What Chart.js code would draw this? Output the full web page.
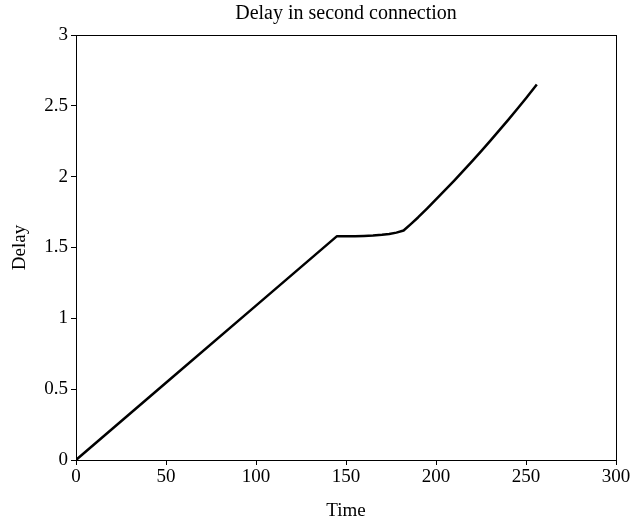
<!DOCTYPE html>
<html>
<head>
<meta charset="utf-8">
<script src="https://cdn.jsdelivr.net/npm/chart.js@4"></script>
<style>
  html, body { margin: 0; padding: 0; background: #fff; }
  #wrap { width: 642px; height: 527px; }
</style>
</head>
<body>
<div id="wrap"><canvas id="chart" width="642" height="527"></canvas></div>
<script>
// time samples and delay of the second connection
const times  = [0, 50, 100, 145, 150, 155, 160, 165, 170, 174, 178, 182, 186, 190, 195, 200, 205, 210, 215, 220, 225, 230, 235, 240, 245, 250, 256];
const delays = [0, 0.545, 1.09, 1.58, 1.58, 1.58, 1.582, 1.585, 1.59, 1.596, 1.605, 1.62, 1.665, 1.712, 1.775, 1.84, 1.905, 1.971, 2.039, 2.108, 2.179, 2.251, 2.325, 2.399, 2.476, 2.554, 2.65];

const xTicks = [0, 50, 100, 150, 200, 250, 300];
const yTicks = [0, 0.5, 1, 1.5, 2, 2.5, 3];

const serif = "'Liberation Serif', 'DejaVu Serif', serif";

// box round the plot area
const frame = {
    id: 'frame',
    afterDatasetsDraw(chart) {
        const a = chart.chartArea;
        const ctx = chart.ctx;
        ctx.save();
        ctx.strokeStyle = '#000';
        ctx.lineWidth = 1;
        ctx.strokeRect(a.left + 0.5, a.top + 0.5, a.right - a.left, a.bottom - a.top);
        ctx.restore();
    }
};

const points = times.map(function (t, i) { return { x: t, y: delays[i] }; });

new Chart(document.getElementById('chart'), {
    type: 'line',
    data: {
        datasets: [{
            data: points,
            borderColor: '#000',
            borderWidth: 2.5,
            pointRadius: 0,
            tension: 0,
            borderJoinStyle: 'round',
            fill: false
        }]
    },
    options: {
        responsive: false,
        animation: false,
        layout: { padding: { left: 0, right: 26, top: 0, bottom: 0 } },
        plugins: {
            legend: { display: false },
            tooltip: { enabled: false },
            title: {
                display: true,
                text: 'Delay in second connection',
                fullSize: false,
                color: '#000',
                font: { family: serif, size: 20, weight: 'normal' },
                padding: { top: 2, bottom: 9 }
            }
        },
        scales: {
            x: {
                type: 'linear',
                min: 0,
                max: 300,
                afterBuildTicks: function (scale) { scale.ticks = xTicks.map(function (v) { return { value: v }; }); },
                afterFit: function (scale) { scale.height = 67; },
                border: { display: true, color: '#000', width: 1 },
                grid: { drawOnChartArea: false, drawTicks: true, tickLength: 5, tickWidth: 1, tickColor: '#000' },
                ticks: {
                    color: '#000', padding: 1, maxRotation: 0,
                    font: { family: serif, size: 19 },
                    callback: function (v) { return String(v); }
                },
                title: {
                    display: true,
                    text: 'Time',
                    color: '#000',
                    font: { family: serif, size: 19 },
                    padding: { top: 0, bottom: 5 }
                }
            },
            y: {
                min: 0,
                max: 3,
                afterBuildTicks: function (scale) { scale.ticks = yTicks.map(function (v) { return { value: v }; }); },
                afterFit: function (scale) { scale.width = 76; },
                border: { display: true, color: '#000', width: 1 },
                grid: { drawOnChartArea: false, drawTicks: true, tickLength: 5, tickWidth: 1, tickColor: '#000' },
                ticks: {
                    color: '#000', padding: 3,
                    font: { family: serif, size: 19 },
                    callback: function (v) { return String(v); }
                },
                title: {
                    display: true,
                    text: 'Delay',
                    color: '#000',
                    font: { family: serif, size: 19 },
                    padding: { top: 9, bottom: 0 }
                }
            }
        }
    },
    plugins: [frame]
});
</script>
</body>
</html>
